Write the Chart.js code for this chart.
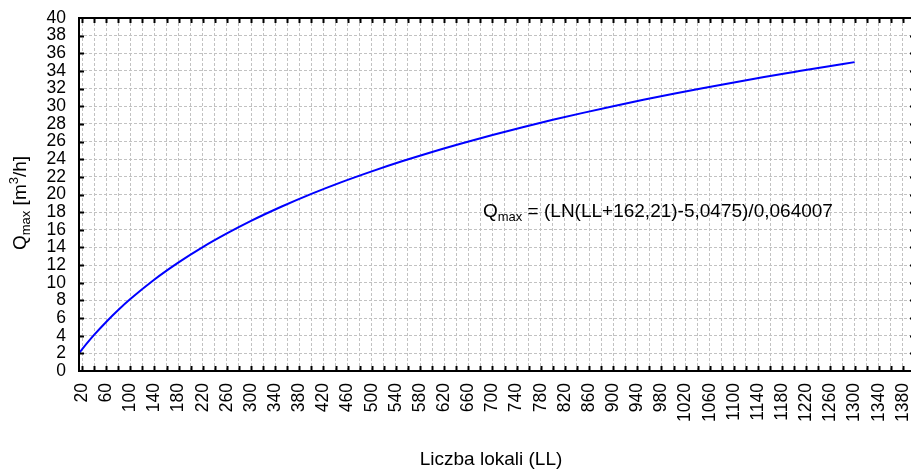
<!DOCTYPE html>
<html lang="pl">
<head>
  <meta charset="UTF-8" />
  <title>Qmax vs Liczba lokali</title>
  <script src="https://cdn.jsdelivr.net/npm/chart.js"></script>
  <style>
    html, body { margin: 0; padding: 0; background: #fff; overflow: hidden; }
    #wrap { width: 916px; height: 469px; position: relative; }
  </style>
</head>
<body>
  <div id="wrap"><canvas id="qChart"></canvas></div>

  <script>
    // Values
    const liczbaLokali = [14, 20, 40, 60, 80, 100, 140, 180, 220, 260, 300, 350, 400, 450, 500, 550, 600,
      650, 700, 750, 800, 850, 900, 950, 1000, 1050, 1100, 1150, 1200, 1250, 1300];
    const qMax = [1.94, 2.46, 4.09, 5.56, 6.91, 8.15, 10.37, 12.31, 14.04, 15.59, 17.01, 18.61, 20.07, 21.40,
      22.62, 23.76, 24.82, 25.81, 26.75, 27.63, 28.46, 29.25, 30.01, 30.73, 31.41, 32.07, 32.70, 33.31,
      33.89, 34.46, 35.00];

    const xMin = 15, xMax = 1400, xStep = 20;
    const yMin = 0, yMax = 40, yStep = 2;

    const FONT = "'Liberation Sans', Arial, sans-serif";
    const gridColor = '#c2c2c2';

    // frame, inside ticks and the texts with sub/superscripts
    const decorPlugin = {
      id: 'decor',
      afterDraw(chart) {
        const { ctx, chartArea: a, scales } = chart;
        const xs = scales.x, ys = scales.y;
        ctx.save();
        ctx.strokeStyle = '#000';
        ctx.lineWidth = 2;
        ctx.strokeRect(a.left, a.top, a.right - a.left, a.bottom - a.top);

        ctx.beginPath();
        for (let v = 20; v <= xMax; v += xStep) {
          const px = Math.round(xs.getPixelForValue(v)) + 0.5;
          ctx.moveTo(px, a.bottom); ctx.lineTo(px, a.bottom - 5);
          ctx.moveTo(px, a.top); ctx.lineTo(px, a.top + 5);
        }
        for (let v = yMin + yStep; v < yMax; v += yStep) {
          const py = Math.round(ys.getPixelForValue(v)) + 0.5;
          ctx.moveTo(a.left, py); ctx.lineTo(a.left + 5, py);
          ctx.moveTo(a.right, py); ctx.lineTo(a.right - 5, py);
        }
        ctx.stroke();

        ctx.fillStyle = '#000';
        ctx.textBaseline = 'alphabetic';

        // equation
        let x = 483;
        const by = 217;
        ctx.textAlign = 'left';
        ctx.font = '19px ' + FONT;
        ctx.fillText('Q', x, by); x += ctx.measureText('Q').width;
        ctx.font = '13px ' + FONT;
        ctx.fillText('max', x, by + 4); x += ctx.measureText('max').width;
        ctx.font = '19px ' + FONT;
        ctx.fillText(' = (LN(LL+162,21)-5,0475)/0,064007', x, by);

        // x title
        ctx.textAlign = 'center';
        ctx.fillText('Liczba lokali (LL)', 491, 465);

        // y title, rotated
        ctx.translate(26, 250);
        ctx.rotate(-Math.PI / 2);
        ctx.textAlign = 'left';
        let t = 0;
        const parts = [
          ['Q', 19, 0], ['max', 13, 4], [' [m', 19, 0], ['3', 13, -8], ['/h]', 19, 0]
        ];
        parts.forEach(([s, size, dy]) => {
          ctx.font = size + 'px ' + FONT;
          ctx.fillText(s, t, dy);
          t += ctx.measureText(s).width;
        });
        ctx.restore();
      }
    };

    function stepTicks(from, to, step) {
      const out = [];
      for (let v = from; v <= to + 1e-9; v += step) out.push({ value: v });
      return out;
    }

    const ctx = document.getElementById('qChart').getContext('2d');
    new Chart(ctx, {
      type: 'scatter',
      data: {
        datasets: [{
          data: liczbaLokali.map((v, i) => ({ x: v, y: qMax[i] })),
          showLine: true,
          borderColor: '#0000ff',
          borderWidth: 2,
          pointRadius: 0,
          cubicInterpolationMode: 'monotone'
        }]
      },
      options: {
        responsive: true,
        maintainAspectRatio: false,
        animation: false,
        layout: { padding: { top: 18, right: 1, left: 0, bottom: 0 } },
        plugins: { legend: { display: false }, tooltip: { enabled: false } },
        scales: {
          x: {
            type: 'linear',
            min: xMin,
            max: xMax,
            grid: { color: gridColor, drawTicks: false },
            border: { display: false, dash: [3, 2] },
            ticks: {
              autoSkip: false,
              minRotation: 90,
              maxRotation: 90,
              padding: 12,
              color: '#000',
              font: { family: FONT, size: 17.5 },
              callback: v => ((v - 20) % 40 === 0 ? String(v) : '')
            },
            afterBuildTicks(scale) { scale.ticks = stepTicks(20, xMax, xStep); },
            afterFit(scale) {
              scale.height = 98;
              scale.paddingLeft = 0;
              scale.paddingRight = 0;
            }
          },
          y: {
            min: yMin,
            max: yMax,
            grid: { color: gridColor, drawTicks: false },
            border: { display: false, dash: [3, 2] },
            ticks: {
              autoSkip: false,
              padding: 13,
              color: '#000',
              font: { family: FONT, size: 17.5 }
            },
            afterBuildTicks(scale) { scale.ticks = stepTicks(yMin, yMax, yStep); },
            afterFit(scale) {
              scale.width = 79;
              scale.paddingTop = 0;
              scale.paddingBottom = 0;
            }
          }
        }
      },
      plugins: [decorPlugin]
    });
  </script>
</body>
</html>
